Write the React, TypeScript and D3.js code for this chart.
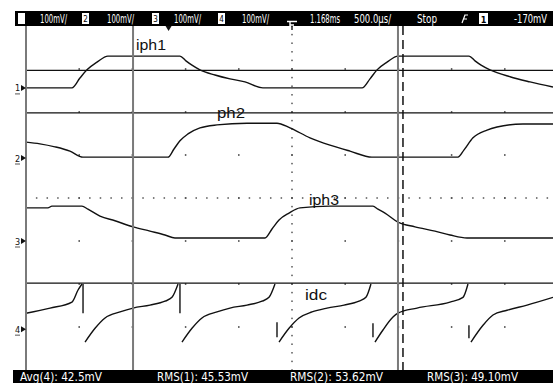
import React from "react";
import * as d3 from "d3";

// Scope screen: 10 horizontal divisions of 500 µs, 8 vertical divisions of 100 mV
const TIME_DOMAIN: [number, number] = [-2500, 2500];
const VOLT_DOMAIN: [number, number] = [-400, 400];

// Ground-reference offsets (mV on screen) for channels 1..4
const CHANNEL_OFFSETS = [256, 93, -100, -305];
const CHANNEL_IDS = ["1", "2", "3", "4"];

// Trace samples: [time µs, value mV relative to the channel's ground marker]
const IPH1: [number, number][] = [
  [-2500, 0], [-2068, 0], [-1993, 23], [-1927, 42], [-1833, 60], [-1730, 74],
  [-1053, 74], [-997, 63], [-940, 53], [-865, 42], [-724, 30], [-583, 21],
  [-442, 14], [-273, 0], [658, 0], [733, 21], [799, 42], [893, 60], [996, 74],
  [1664, 74], [1720, 63], [1777, 53], [1861, 42], [2049, 26], [2237, 14], [2453, 2],
];

const PH2: [number, number][] = [
  [-2500, 37], [-2369, 33], [-2228, 26], [-2087, 16], [-1965, 2], [-1166, 2],
  [-1109, 21], [-1053, 40], [-978, 56], [-865, 70], [-705, 77], [-423, 81],
  [-141, 81], [-19, 70], [169, 47], [357, 30], [545, 16], [752, 2], [1560, 2],
  [1617, 19], [1701, 47], [1833, 65], [1927, 72], [2171, 79], [2453, 79],
];

const IPH3: [number, number][] = [
  [-2500, 77], [-2294, 77], [-2256, 81], [-1974, 81], [-1918, 74], [-1805, 58],
  [-1664, 47], [-1494, 33], [-1335, 23], [-1194, 14], [-1100, 7], [-254, 7],
  [-188, 28], [-122, 49], [-28, 65], [75, 77], [357, 81], [761, 81], [808, 74],
  [874, 65], [996, 44], [1156, 33], [1344, 23], [1485, 14], [1645, 7], [2453, 7],
];

// DC-link current ramps, one array per ramp
const IDC_RAMPS: [number, number][][] = [
  [[-2500, 37], [-2274, 49], [-2068, 63], [-2011, 91], [-1974, 105]],
  [[-1945, -30], [-1851, 2], [-1757, 26], [-1616, 40], [-1494, 49], [-1335, 56], [-1194, 65],
   [-1128, 74], [-1071, 105]],
  [[-1034, -30], [-940, 2], [-846, 26], [-705, 40], [-583, 49], [-423, 56], [-282, 65],
   [-216, 74], [-160, 105]],
  [[-122, -30], [-28, 2], [66, 26], [188, 40], [329, 49], [489, 56], [630, 65], [695, 74], [742, 105]],
  [[780, -30], [855, -2], [949, 28], [996, 37], [1175, 49], [1485, 63], [1607, 74], [1654, 105]],
  [[1682, -30], [1795, 9], [1889, 33], [2021, 44], [2209, 56], [2453, 74]],
];
// Partial reset edges the scope drew between ramps: [time, from mV, to mV]
const IDC_EDGES: [number, number, number][] = [
  [-1964, 105, 37],
  [-1053, 105, 37],
  [-141, 16, -19],
  [761, 14, -19],
  [1663, 9, -21],
];

const TRACE_NAMES = ["iph1", "ph2", "iph3", "idc"];

// Cursors
const CURSOR_TIMES = [-1494, 996];
const DASHED_CURSOR_TIME = 1043;
const H_CURSOR_LEVELS = [297, 198, -198];
const TRIGGER_POS_TIME = -1160;

// Status lines
const SCALE_LABELS = ["100mV/", "100mV/", "100mV/", "100mV/"];
const TRIGGER_LEVEL = "1.168ms";
const TIMEBASE = "500.0µs/";
const RUN_STATE = "Stop";
const TRIGGER_VALUE = "-170mV";
const MEASUREMENTS = ["Avg(4): 42.5mV", "RMS(1): 45.53mV", "RMS(2): 53.62mV", "RMS(3): 49.10mV"];

const W = 553;
const H = 383;
const PLOT = { left: 26, right: 558, top: 26, bottom: 370 };

const statusFont = "'DejaVu Sans Condensed', 'DejaVu Sans', sans-serif";
const labelFont = "'Liberation Sans', Arial, sans-serif";

// White status-line text, stretched vertically like the scope's bitmap font
function StatusText({ x, y, len, children }: { x: number; y: number; len: number; children: React.ReactNode }) {
  return (
    <text
      transform={`translate(${x},${y}) scale(1,1.2)`}
      fontSize={10}
      fontFamily={statusFont}
      fill="#fff"
      textLength={len}
      lengthAdjust="spacingAndGlyphs"
    >
      {children}
    </text>
  );
}

export default function App() {
  const x = d3.scaleLinear().domain(TIME_DOMAIN).range([PLOT.left, PLOT.right]);
  const y = d3.scaleLinear().domain(VOLT_DOMAIN).range([PLOT.bottom, PLOT.top]);

  const lineFor = (offset: number, curve: d3.CurveFactory) =>
    d3
      .line<[number, number]>()
      .x((d) => x(d[0]))
      .y((d) => y(d[1] + offset))
      .curve(curve);

  const phaseTraces = [IPH1, PH2, IPH3];

  const xDivs = d3.range(TIME_DOMAIN[0], TIME_DOMAIN[1] + 1, 500);
  const yDivs = d3.range(VOLT_DOMAIN[0], VOLT_DOMAIN[1] + 1, 100);
  const xMinor = d3.range(TIME_DOMAIN[0], TIME_DOMAIN[1] + 1, 100);
  const yMinor = d3.range(VOLT_DOMAIN[0], VOLT_DOMAIN[1] + 1, 20);

  const scaleX = [40, 107, 174, 242];
  const boxX = [18, 82, 152, 218];
  const idcOffset = CHANNEL_OFFSETS[3];

  return (
    <svg
      width={W}
      height={H}
      viewBox={`0 0 ${W} ${H}`}
      style={{ position: "fixed", left: 0, top: 0, background: "#fff" }}
    >
      <defs>
        <clipPath id="plotClip">
          <rect x={PLOT.left} y={PLOT.top} width={W - PLOT.left} height={PLOT.bottom - PLOT.top} />
        </clipPath>
      </defs>
      <rect width={W} height={H} fill="#fff" />

      <g clipPath="url(#plotClip)">
        {/* division intersection dots */}
        {xDivs.slice(1, -1).map((t) =>
          yDivs.slice(1, -1).map((v) => (
            <rect key={`g${t}_${v}`} x={x(t) - 0.75} y={y(v) - 0.75} width={1.5} height={1.5} fill="#333" />
          ))
        )}
        {/* centre cross minor ticks */}
        {xMinor.map((t) => (
          <rect key={`cx${t}`} x={x(t) - 0.75} y={y(0) - 0.75} width={1.5} height={1.5} fill="#555" />
        ))}
        {yMinor.map((v) => (
          <rect key={`cy${v}`} x={x(0) - 0.75} y={y(v) - 0.75} width={1.5} height={1.5} fill="#555" />
        ))}

        {/* horizontal cursors */}
        {H_CURSOR_LEVELS.map((v) => (
          <line key={`h${v}`} x1={PLOT.left} x2={W} y1={y(v)} y2={y(v)} stroke="#111" strokeWidth={1.2} />
        ))}

        {/* phase traces */}
        {phaseTraces.map((data, i) => (
          <path
            key={`tr${i}`}
            d={lineFor(CHANNEL_OFFSETS[i], d3.curveMonotoneX)(data) || ""}
            fill="none"
            stroke="#111"
            strokeWidth={1.4}
          />
        ))}
        {/* dc-link trace */}
        {IDC_RAMPS.map((seg, i) => (
          <path
            key={`idc${i}`}
            d={lineFor(idcOffset, d3.curveMonotoneX)(seg) || ""}
            fill="none"
            stroke="#111"
            strokeWidth={1.4}
          />
        ))}
        {IDC_EDGES.map(([t, a, b], i) => (
          <line
            key={`edge${i}`}
            x1={x(t)}
            x2={x(t)}
            y1={y(a + idcOffset)}
            y2={y(b + idcOffset)}
            stroke="#111"
            strokeWidth={1.4}
          />
        ))}

        {/* vertical cursors */}
        {CURSOR_TIMES.map((t) => (
          <line key={`v${t}`} x1={x(t)} x2={x(t)} y1={PLOT.top} y2={PLOT.bottom} stroke="#7a7a7a" strokeWidth={2} />
        ))}
        <line
          x1={x(DASHED_CURSOR_TIME)}
          x2={x(DASHED_CURSOR_TIME)}
          y1={PLOT.top}
          y2={PLOT.bottom}
          stroke="#111"
          strokeWidth={1.5}
          strokeDasharray="9 5"
        />
      </g>

      {/* left screen edge */}
      <line x1={PLOT.left} x2={PLOT.left} y1={PLOT.top} y2={PLOT.bottom} stroke="#7a7a7a" strokeWidth={2} />

      {/* channel ground markers */}
      {CHANNEL_OFFSETS.map((off, i) => {
        const yy = y(off);
        return (
          <g key={`m${i}`}>
            <text x={15} y={yy + 3.5} fontSize={9} fontFamily={statusFont} fill="#111">
              {CHANNEL_IDS[i]}
            </text>
            <path d={`M21,${yy - 3}L26,${yy}L21,${yy + 3}Z`} fill="#111" />
            <line x1={15} x2={20} y1={yy + 6} y2={yy + 6} stroke="#555" strokeWidth={1} />
          </g>
        );
      })}

      {/* trace names */}
      <text x={136} y={50} fontSize={14} fontFamily={labelFont} fill="#111" textLength={30} lengthAdjust="spacingAndGlyphs">
        {TRACE_NAMES[0]}
      </text>
      <text x={217} y={118} fontSize={14} fontFamily={labelFont} fill="#111" textLength={28} lengthAdjust="spacingAndGlyphs">
        {TRACE_NAMES[1]}
      </text>
      <text x={309} y={205} fontSize={14} fontFamily={labelFont} fill="#111" textLength={30} lengthAdjust="spacingAndGlyphs">
        {TRACE_NAMES[2]}
      </text>
      <text x={305} y={300} fontSize={14} fontFamily={labelFont} fill="#111" textLength={22} lengthAdjust="spacingAndGlyphs">
        {TRACE_NAMES[3]}
      </text>

      {/* trigger position marker */}
      <path
        d={`M${x(TRIGGER_POS_TIME) - 3},${PLOT.top}L${x(TRIGGER_POS_TIME) + 3},${PLOT.top}L${x(TRIGGER_POS_TIME)},${PLOT.top + 5}Z`}
        fill="#111"
      />

      {/* top status line */}
      <rect x={15} y={11} width={W - 15} height={15} fill="#000" />
      {boxX.map((bx, i) => (
        <g key={`b${i}`}>
          <rect x={bx} y={13} width={7} height={11} fill="#fff" />
          {i > 0 && (
            <text x={bx + 3.5} y={22} fontSize={8} fontFamily={statusFont} fill="#000" textAnchor="middle">
              {CHANNEL_IDS[i]}
            </text>
          )}
        </g>
      ))}
      {SCALE_LABELS.map((s, i) => (
        <StatusText key={`s${i}`} x={scaleX[i]} y={23} len={27}>
          {s}
        </StatusText>
      ))}
      <path d="M287,21.5H297M290,21.5V29M290,25H294" stroke="#fff" strokeWidth={1.4} fill="none" />
      <line x1={x(0)} x2={x(0)} y1={26} y2={30} stroke="#111" strokeWidth={1.4} />
      <StatusText x={310} y={23} len={30}>{TRIGGER_LEVEL}</StatusText>
      <StatusText x={354} y={23} len={37}>{TIMEBASE}</StatusText>
      <StatusText x={417} y={23} len={20}>{RUN_STATE}</StatusText>
      <path d="M462,23L465,15M463.5,19H467M464.5,15H468" stroke="#fff" strokeWidth={1.2} fill="none" />
      <rect x={479} y={13} width={9} height={11} fill="#fff" />
      <text x={483.5} y={22.5} fontSize={9} fontFamily={statusFont} fill="#000" textAnchor="middle" fontWeight="bold">
        1
      </text>
      <StatusText x={514} y={23} len={33}>{TRIGGER_VALUE}</StatusText>

      {/* bottom measurement line */}
      <rect x={13} y={370} width={W - 13} height={13} fill="#000" />
      {MEASUREMENTS.map((m, i) => (
        <StatusText key={`meas${i}`} x={[20, 157, 290, 427][i]} y={381} len={[82, 91, 93, 91][i]}>
          {m}
        </StatusText>
      ))}
    </svg>
  );
}
